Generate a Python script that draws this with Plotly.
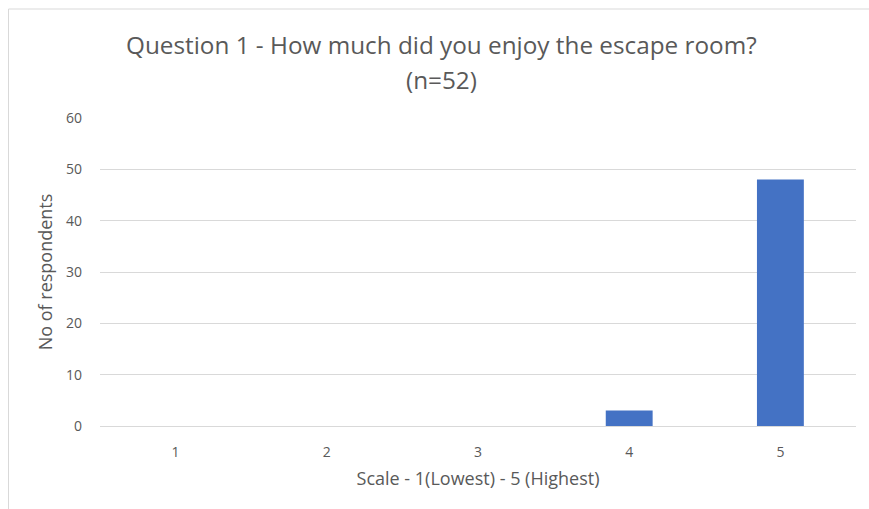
import plotly.graph_objects as go

# Survey results: rating scale and number of respondents per rating
categories = ["1", "2", "3", "4", "5"]
respondents = [0, 0, 0, 3, 48]

title_line1 = "Question 1 - How much did you enjoy the escape room?"
title_line2 = "(n=52)"
x_title = "Scale - 1(Lowest) - 5 (Highest)"
y_title = "No of respondents"

FONT = "Open Sans, sans-serif"
TEXT = "#595959"
GRID = "#d9d9d9"

W, H = 869, 509
ML, MR, MT, MB = 100, 13, 118, 83
plot_w = W - ML - MR
plot_h = H - MT - MB


def px_x(px):
    return (px - ML) / plot_w


def px_y(py):
    return (H - MB - py) / plot_h


fig = go.Figure(
    go.Bar(
        x=categories,
        y=respondents,
        marker=dict(color="#4472C4", line=dict(width=0)),
    )
)

# Light frame around the chart area (partly running off the page edges)
fig.add_shape(
    type="rect", xref="paper", yref="paper",
    x0=px_x(8.5), x1=1.2, y0=-0.5, y1=px_y(9),
    line=dict(color=GRID, width=1), fillcolor="rgba(0,0,0,0)", layer="below",
)

# Two-line chart title
for text, cy in ((title_line1, 44), (title_line2, 79)):
    fig.add_annotation(
        text=text, xref="paper", yref="paper",
        x=px_x(441), y=px_y(cy), xanchor="center", yanchor="middle",
        showarrow=False, font=dict(size=24.3, color=TEXT, family=FONT),
    )

fig.update_layout(
    width=W, height=H,
    margin=dict(l=ML, r=MR, t=MT, b=MB, pad=0),
    paper_bgcolor="white", plot_bgcolor="white",
    bargap=0.69,
    showlegend=False,
    font=dict(family=FONT, color=TEXT),
    xaxis=dict(
        type="category",
        showgrid=False, zeroline=False, showline=False,
        ticks="", tickfont=dict(size=14, color=TEXT),
        ticklabelstandoff=16,
        title=dict(text=x_title, font=dict(size=18, color=TEXT), standoff=12),
    ),
    yaxis=dict(
        range=[0, 60], dtick=10,
        showgrid=True, gridcolor=GRID, gridwidth=1,
        zeroline=True, zerolinecolor=GRID, zerolinewidth=1,
        showline=False, ticks="",
        ticklabelstandoff=17,
        tickfont=dict(size=14, color=TEXT),
        title=dict(text=y_title, font=dict(size=18, color=TEXT), standoff=8),
    ),
)

fig.write_html("out.html")
